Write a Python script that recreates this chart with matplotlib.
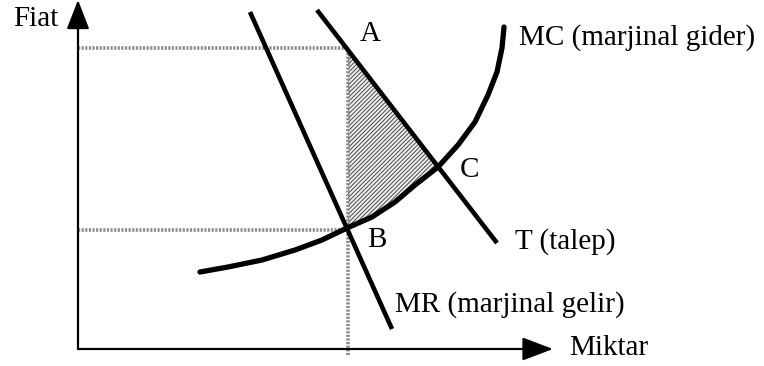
import numpy as np
import matplotlib
matplotlib.use('Agg')
import matplotlib.pyplot as plt

plt.rcParams['font.family'] = ['Liberation Serif', 'DejaVu Serif']
plt.rcParams['hatch.linewidth'] = 0.7

# demand (T) and marginal revenue (MR) lines: end points (quantity, price)
demand_q = [23.9, 41.9]
demand_p = [33.9, 10.6]
mr_q = [17.2, 31.4]
mr_p = [33.7, 2.0]

# marginal cost (MC) curve
mc_q = [12.2, 15.0, 18.4, 21.7, 24.4, 26.9, 29.4, 31.7, 33.7, 36.0,
        38.0, 39.7, 41.0, 41.9, 42.4, 42.6]
mc_p = [7.7, 8.2, 8.9, 9.9, 10.9, 12.1, 13.2, 14.7, 16.4, 18.2,
        20.4, 22.7, 25.4, 27.7, 30.1, 32.2]

# monopoly quantity and the two price levels (A and B), C quantity
q_star = 27.0
p_a = 30.1
p_b = 11.9
q_c = 36.0

fig = plt.figure(figsize=(7.64, 3.66), dpi=100)
ax = fig.add_axes([0, 0, 1, 1])
ax.set_xlim(-7.8, 68.6)
ax.set_ylim(-1.7, 34.9)
ax.axis('off')

# shaded area A-B-C
mq = np.array(mc_q)
mp = np.array(mc_p)
sel = (mq > q_star) & (mq <= q_c)
fq = np.concatenate([[q_star], mq[sel]])
fp_low = np.concatenate([[np.interp(q_star, mc_q, mc_p)], mp[sel]])
slope = (demand_p[1] - demand_p[0]) / (demand_q[1] - demand_q[0])
fp_high = demand_p[0] + (fq - demand_q[0]) * slope
ax.fill_between(fq, fp_low, fp_high, facecolor='#eeeeee', edgecolor='#4a4a4a',
                hatch='////////', linewidth=0)

# dotted guides
guide = dict(color='#8c8c8c', lw=2.6, ls=(0, (0.6, 0.4)))
ax.plot([0, q_star], [p_a, p_a], **guide)
ax.plot([0, q_star], [p_b, p_b], **guide)
ax.plot([q_star, q_star], [-0.6, p_a], **guide)

# curves
ax.plot(demand_q, demand_p, color='black', lw=3.3, solid_capstyle='butt')
ax.plot(mr_q, mr_p, color='black', lw=3.3, solid_capstyle='butt')
ax.plot(mc_q, mc_p, color='black', lw=3.8, solid_capstyle='round',
        solid_joinstyle='round')

# axes with arrows
ax.annotate('', xy=(0, 34.9), xytext=(0, 0),
            arrowprops=dict(arrowstyle='-|>,head_length=1.8,head_width=0.7',
                            mutation_scale=10, lw=1.6, color='black',
                            shrinkA=0, shrinkB=0))
ax.annotate('', xy=(47.5, 0), xytext=(0, 0),
            arrowprops=dict(arrowstyle='-|>,head_length=1.9,head_width=0.72',
                            mutation_scale=10, lw=1.6, color='black',
                            shrinkA=0, shrinkB=0))

fs = 21
ax.text(-6.5, 32.3, 'Fiat', fontsize=fs, va='baseline')
ax.text(49.1, -0.6, 'Miktar', fontsize=fs, va='baseline')
ax.text(28.2, 30.8, 'A', fontsize=fs, va='baseline')
ax.text(38.2, 17.2, 'C', fontsize=fs, va='baseline')
ax.text(28.9, 10.2, 'B', fontsize=fs, va='baseline')
ax.text(44.1, 30.4, 'MC (marjinal gider)', fontsize=fs, va='baseline')
ax.text(43.7, 10.0, 'T (talep)', fontsize=fs, va='baseline')
ax.text(31.7, 3.7, 'MR (marjinal gelir)', fontsize=fs, va='baseline')

plt.savefig('out.png', dpi=100)
